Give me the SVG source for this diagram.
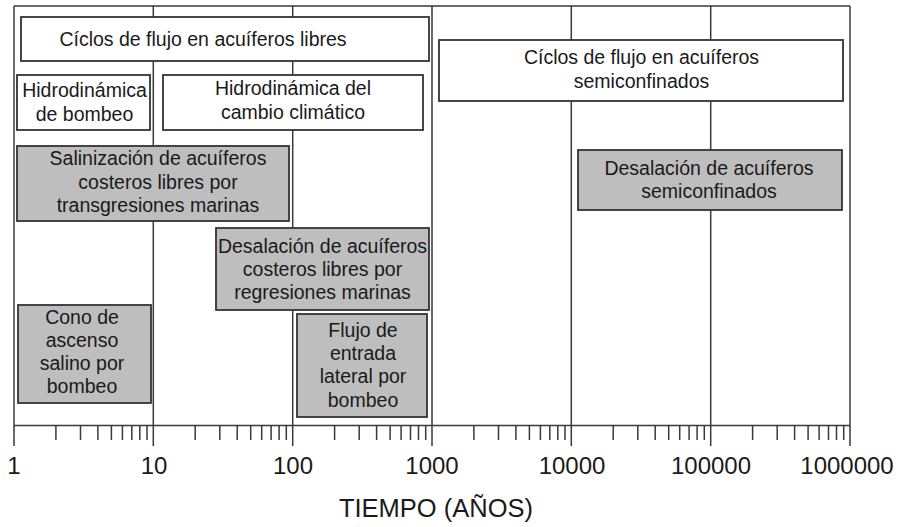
<svg xmlns="http://www.w3.org/2000/svg" width="901" height="527" viewBox="0 0 901 527">
<style>
.grid{stroke:#3a3a3a;stroke-width:1.5;fill:none}
.tick{stroke:#3a3a3a;stroke-width:1.5}
.wbox{fill:#ffffff;stroke:#333333;stroke-width:1.8}
.gbox{fill:#bebebe;stroke:#333333;stroke-width:1.8}
.t{font-family:"Liberation Sans",Arial,Helvetica,sans-serif;font-size:19.5px;fill:#1a1a1a;text-anchor:middle}
.ax{font-family:"Liberation Sans",Arial,Helvetica,sans-serif;font-size:24px;fill:#1a1a1a;text-anchor:middle}
</style>
<rect x="0" y="0" width="901" height="527" fill="#ffffff"/>
<g id="grid">
<path class="grid" d="M14,6 H850 M14,6 V446 M153.3,6 V446 M292.7,6 V446 M432,6 V446 M571.3,6 V446 M710.7,6 V446 M850,6 V446 M14,425.5 H850"/>
<path class="tick" d="M55.9,425 V440 M80.5,425 V440 M97.9,425 V440 M111.4,425 V440 M122.4,425 V440 M131.8,425 V440 M139.8,425 V440 M147,425 V440
M195.2,425 V440 M219.8,425 V440 M237.2,425 V440 M250.7,425 V440 M261.7,425 V440 M271.1,425 V440 M279.1,425 V440 M286.3,425 V440
M334.6,425 V440 M359.2,425 V440 M376.6,425 V440 M390.1,425 V440 M401.1,425 V440 M410.5,425 V440 M418.5,425 V440 M425.7,425 V440
M473.9,425 V440 M498.5,425 V440 M515.9,425 V440 M529.4,425 V440 M540.4,425 V440 M549.8,425 V440 M557.8,425 V440 M565,425 V440
M613.2,425 V440 M637.8,425 V440 M655.2,425 V440 M668.7,425 V440 M679.7,425 V440 M689.1,425 V440 M697.1,425 V440 M704.3,425 V440
M752.6,425 V440 M777.2,425 V440 M794.6,425 V440 M808.1,425 V440 M819.1,425 V440 M828.5,425 V440 M836.5,425 V440 M843.7,425 V440"/>
</g>
<g id="axis-labels">
<text class="ax" x="14" y="474">1</text>
<text class="ax" x="154" y="474">10</text>
<text class="ax" x="293" y="474">100</text>
<text class="ax" x="432" y="474">1000</text>
<text class="ax" x="572" y="474">10000</text>
<text class="ax" x="711" y="474">100000</text>
<text class="ax" x="847" y="474">1000000</text>
<text class="ax" x="436" y="517" style="font-size:25.5px">TIEMPO (AÑOS)</text>
</g>
<g id="ciclos-libres">
<rect class="wbox" x="21" y="17" width="408" height="44"/>
<text class="t" x="203" y="46">Cíclos de flujo en acuíferos libres</text>
</g>
<g id="hidro-bombeo">
<rect class="wbox" x="17" y="75" width="133" height="55"/>
<text class="t" x="84.5" y="97">Hidrodinámica</text>
<text class="t" x="84.5" y="121">de bombeo</text>
</g>
<g id="hidro-clima">
<rect class="wbox" x="163" y="75" width="260" height="55"/>
<text class="t" x="293" y="95">Hidrodinámica del</text>
<text class="t" x="293" y="119">cambio climático</text>
</g>
<g id="ciclos-semiconfinados">
<rect class="wbox" x="439" y="40" width="404" height="61"/>
<text class="t" x="641.5" y="64">Cíclos de flujo en acuíferos</text>
<text class="t" x="641.5" y="88">semiconfinados</text>
</g>
<g id="salinizacion">
<rect class="gbox" x="17" y="146" width="272" height="75"/>
<text class="t" x="158" y="165">Salinización de acuíferos</text>
<text class="t" x="158" y="189">costeros libres por</text>
<text class="t" x="158" y="212">transgresiones marinas</text>
</g>
<g id="desalacion-libres">
<rect class="gbox" x="216" y="228" width="213" height="82"/>
<text class="t" x="322.5" y="253">Desalación de acuíferos</text>
<text class="t" x="322.5" y="276">costeros libres por</text>
<text class="t" x="322.5" y="299">regresiones marinas</text>
</g>
<g id="desalacion-semiconfinados">
<rect class="gbox" x="578" y="150" width="264" height="60"/>
<text class="t" x="709" y="175">Desalación de acuíferos</text>
<text class="t" x="709" y="198">semiconfinados</text>
</g>
<g id="cono-ascenso">
<rect class="gbox" x="18" y="305" width="133" height="98"/>
<text class="t" x="82" y="324">Cono de</text>
<text class="t" x="82" y="347">ascenso</text>
<text class="t" x="82" y="370">salino por</text>
<text class="t" x="82" y="393">bombeo</text>
</g>
<g id="flujo-lateral">
<rect class="gbox" x="297" y="314" width="130" height="103"/>
<text class="t" x="363" y="337">Flujo de</text>
<text class="t" x="363" y="360">entrada</text>
<text class="t" x="363" y="383">lateral por</text>
<text class="t" x="363" y="407">bombeo</text>
</g>
</svg>
